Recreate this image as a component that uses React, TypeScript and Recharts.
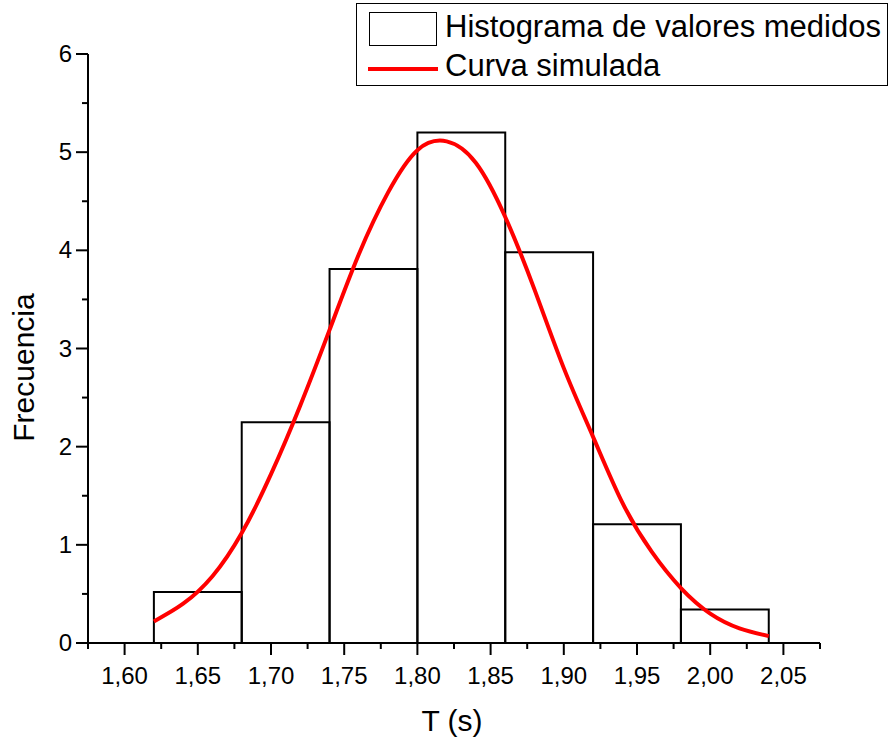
import React from 'react';
import { ComposedChart, Line, XAxis, YAxis, ReferenceArea, Label } from 'recharts';

// histogram bins (edges) and measured frequencies
const binEdges = [1.62, 1.68, 1.74, 1.8, 1.86, 1.92, 1.98, 2.04];
const binFreqs = [0.52, 2.25, 3.81, 5.2, 3.98, 1.21, 0.34];

// simulated curve
const curveT = [1.62, 1.64, 1.66, 1.68, 1.7, 1.72, 1.74, 1.76, 1.78, 1.8, 1.82, 1.84, 1.86, 1.88, 1.9, 1.92, 1.94, 1.96, 1.98, 2.0, 2.02, 2.04];
const curveF = [0.22, 0.4, 0.68, 1.12, 1.72, 2.42, 3.19, 3.96, 4.59, 5.02, 5.11, 4.89, 4.34, 3.6, 2.8, 2.1, 1.43, 0.93, 0.56, 0.3, 0.15, 0.07];

const xTicks = [1.575, 1.6, 1.625, 1.65, 1.675, 1.7, 1.725, 1.75, 1.775, 1.8, 1.825, 1.85, 1.875, 1.9, 1.925, 1.95, 1.975, 2.0, 2.025, 2.05, 2.075];
const yTicks = [0, 0.5, 1, 1.5, 2, 2.5, 3, 3.5, 4, 4.5, 5, 5.5, 6];

const FONT = '"Liberation Sans", Arial, Helvetica, sans-serif';

const chartData = curveT.map((t, i) => ({ t, f: curveF[i] }));

const isMajorX = (v: number) => Math.abs(Math.round(v * 20) - v * 20) < 1e-6;
const isMajorY = (v: number) => Math.abs(Math.round(v) - v) < 1e-6;

const XTick = (props: any) => {
  const { x, y, payload } = props;
  const major = isMajorX(payload.value);
  return (
    <g>
      <line x1={x} x2={x} y1={y} y2={y + (major ? 12 : 6)} stroke="#000" strokeWidth={2} />
      {major && (
        <text x={x} y={y + 41} textAnchor="middle" fontSize={24} fontFamily={FONT} fill="#000">
          {payload.value.toFixed(2).replace('.', ',')}
        </text>
      )}
    </g>
  );
};

const YTick = (props: any) => {
  const { x, y, payload } = props;
  const major = isMajorY(payload.value);
  return (
    <g>
      <line x1={x} x2={x - (major ? 12 : 6)} y1={y} y2={y} stroke="#000" strokeWidth={2} />
      {major && (
        <text x={x - 16} y={y + 8} textAnchor="end" fontSize={24} fontFamily={FONT} fill="#000">
          {payload.value}
        </text>
      )}
    </g>
  );
};

const LegendBox = () => (
  <div
    style={{
      position: 'absolute',
      left: 356,
      top: 3,
      border: '1.5px solid #000',
      background: '#fff',
      width: 530,
      height: 81,
      fontFamily: FONT,
      fontSize: 31,
      color: '#000',
    }}
  >
    <div style={{ position: 'absolute', left: 12, top: 8, width: 66, height: 32, border: '1.5px solid #000' }} />
    <div style={{ position: 'absolute', left: 88, top: 6, lineHeight: '34px', whiteSpace: 'nowrap' }}>Histograma de valores medidos</div>
    <div style={{ position: 'absolute', left: 11, top: 63, width: 70, height: 4, background: '#ff0000' }} />
    <div style={{ position: 'absolute', left: 88, top: 45, lineHeight: '34px', whiteSpace: 'nowrap' }}>Curva simulada</div>
  </div>
);

export default function App() {
  return (
    <div style={{ position: 'absolute', left: 0, top: 0, width: 891, height: 739, background: '#fff' }}>
      <ComposedChart width={891} height={739} data={chartData} margin={{ top: 54, right: 71, bottom: 0, left: 0 }}>
        <XAxis
          dataKey="t"
          type="number"
          domain={[1.575, 2.075]}
          ticks={xTicks}
          interval={0}
          tickSize={0}
          tickMargin={0}
          tickLine={false}
          tick={<XTick />}
          axisLine={{ stroke: '#000', strokeWidth: 2 }}
          height={96}
          allowDataOverflow
        >
          <Label
            content={(p: any) => {
              const vb = p.viewBox;
              return (
                <text x={vb.x + vb.width / 2 - 2} y={731} textAnchor="middle" fontSize={30} fontFamily={FONT} fill="#000">
                  T (s)
                </text>
              );
            }}
          />
        </XAxis>
        <YAxis
          type="number"
          domain={[0, 6]}
          ticks={yTicks}
          interval={0}
          tickSize={0}
          tickMargin={0}
          tickLine={false}
          tick={<YTick />}
          axisLine={{ stroke: '#000', strokeWidth: 2 }}
          width={88}
          allowDataOverflow
        >
          <Label
            content={(p: any) => {
              const vb = p.viewBox;
              const cy = vb.y + vb.height / 2 + 19;
              return (
                <text x={34} y={cy} transform={`rotate(-90 34 ${cy})`} textAnchor="middle" fontSize={30} fontFamily={FONT} fill="#000">
                  Frecuencia
                </text>
              );
            }}
          />
        </YAxis>
        {binFreqs.map((f, i) => (
          <ReferenceArea
            key={i}
            x1={binEdges[i]}
            x2={binEdges[i + 1]}
            y1={0}
            y2={f}
            fill="#fff"
            fillOpacity={0}
            stroke="#000"
            strokeWidth={2}
            strokeOpacity={1}
          />
        ))}
        <Line
          type="natural"
          dataKey="f"
          stroke="#ff0000"
          strokeWidth={4}
          dot={false}
          activeDot={false}
          isAnimationActive={false}
        />
      </ComposedChart>
      <LegendBox />
    </div>
  );
}
